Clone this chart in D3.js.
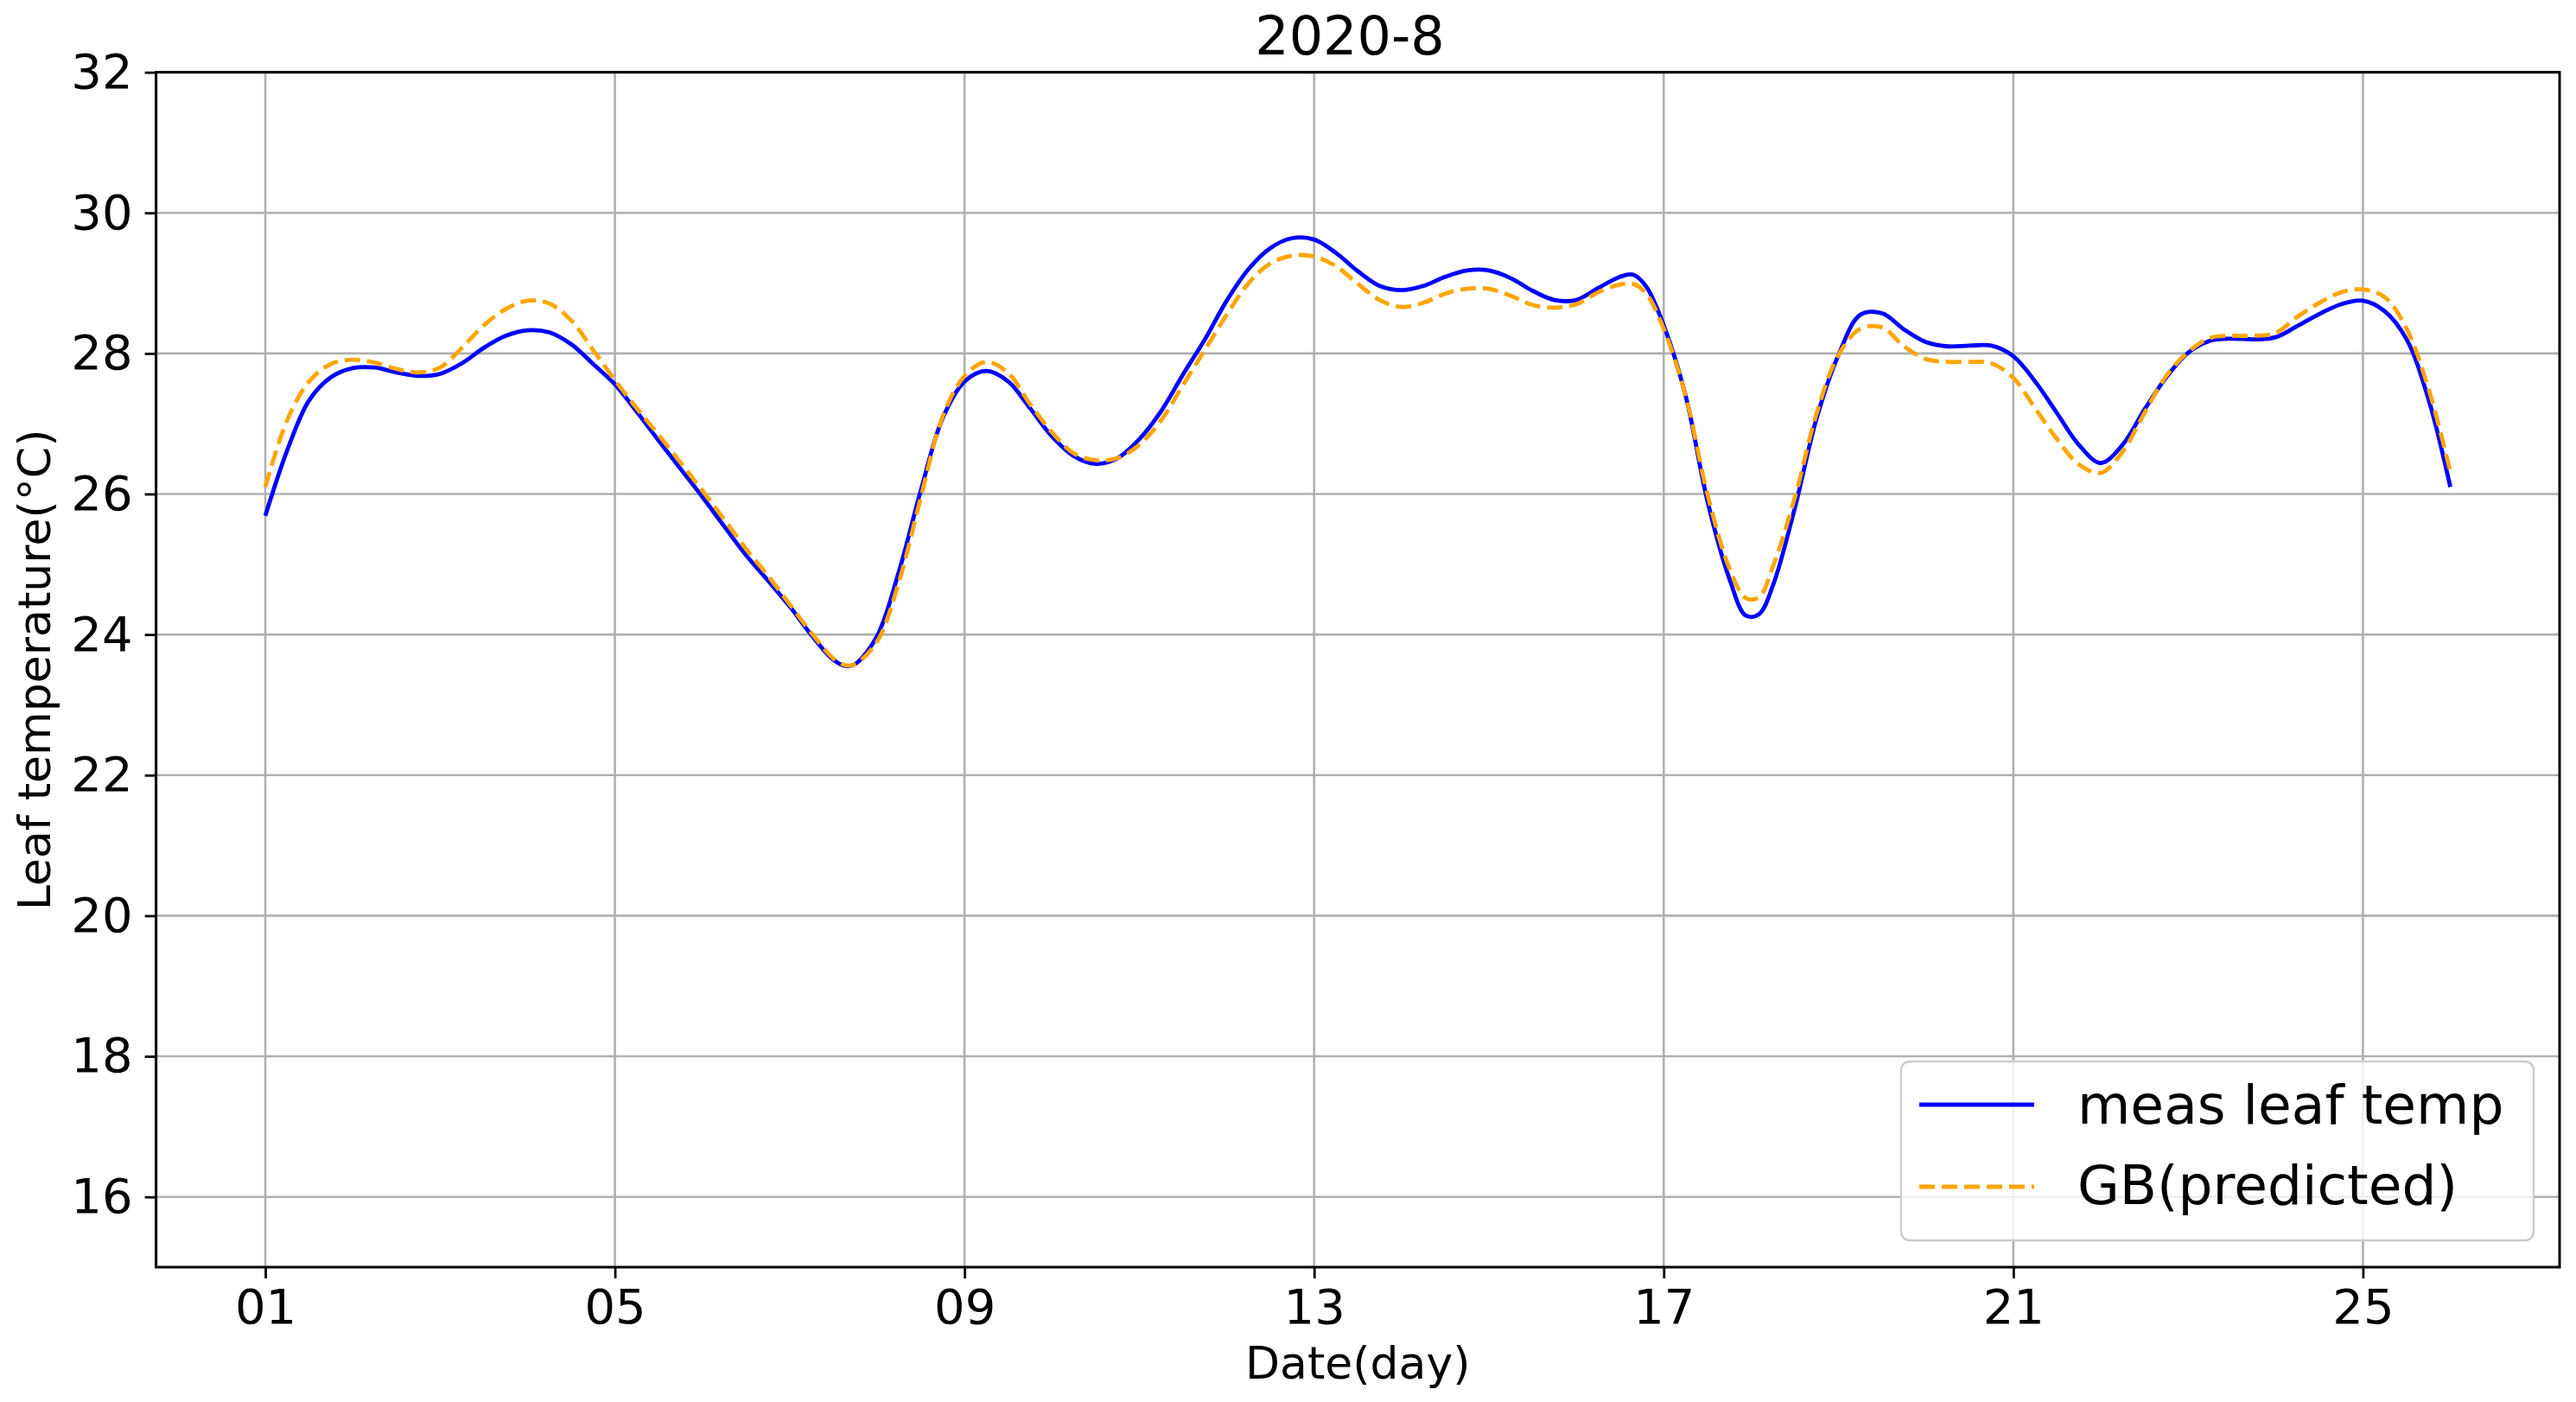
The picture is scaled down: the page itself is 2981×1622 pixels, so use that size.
<!DOCTYPE html>
<html>
<head>
<meta charset="utf-8">
<script src="https://cdn.jsdelivr.net/npm/d3@7"></script>
<style>
  html, body { margin: 0; padding: 0; background: #ffffff; }
  svg { display: block; }
  text { font-family: "DejaVu Sans", sans-serif; fill: #000; }
</style>
</head>
<body>
<svg id="chart" width="2981" height="1622"></svg>
<script>
// ---- data ----
const days = [1.00,1.25,1.50,1.75,2.00,2.25,2.50,2.75,3.00,3.25,3.50,3.75,4.00,4.25,4.50,4.75,
  5.00,5.25,5.50,5.75,6.00,6.25,6.50,6.75,7.00,7.25,7.50,7.65,7.75,8.00,8.25,8.50,8.75,
  9.00,9.25,9.50,9.75,10.00,10.25,10.50,10.75,11.00,11.25,11.50,11.75,12.00,12.25,12.50,12.75,
  13.00,13.25,13.50,13.75,14.00,14.25,14.50,14.75,15.00,15.25,15.50,15.75,16.00,16.25,16.50,16.65,16.80,
  17.00,17.25,17.50,17.75,17.94,18.09,18.25,18.50,18.75,19.00,19.25,19.50,19.75,20.00,20.25,20.50,20.75,
  21.00,21.25,21.50,21.75,22.00,22.25,22.50,22.75,23.00,23.25,23.50,23.75,24.00,24.25,24.50,24.75,
  25.00,25.25,25.50,25.75,26.00];

const measLeafTemp = [25.69,26.62,27.33,27.66,27.79,27.80,27.73,27.68,27.71,27.86,28.08,28.25,28.33,28.30,28.13,27.85,
  27.56,27.17,26.76,26.36,25.96,25.54,25.13,24.77,24.40,23.99,23.64,23.55,23.58,23.98,24.90,26.05,27.08,
  27.60,27.75,27.60,27.22,26.82,26.54,26.43,26.51,26.78,27.18,27.70,28.20,28.75,29.20,29.50,29.64,
  29.62,29.43,29.17,28.96,28.90,28.96,29.09,29.18,29.18,29.07,28.89,28.76,28.76,28.93,29.09,29.12,28.95,
  28.40,27.40,25.90,24.80,24.27,24.29,24.70,25.80,27.08,27.98,28.55,28.57,28.34,28.16,28.10,28.11,28.11,
  27.96,27.60,27.15,26.70,26.44,26.70,27.20,27.66,28.01,28.18,28.21,28.20,28.23,28.39,28.56,28.70,
  28.75,28.60,28.20,27.35,26.10];

const gbPredicted = [26.10,27.05,27.60,27.85,27.91,27.87,27.78,27.73,27.80,28.08,28.40,28.63,28.75,28.71,28.47,28.05,
  27.62,27.22,26.84,26.45,26.05,25.64,25.22,24.84,24.43,24.02,23.66,23.56,23.58,23.90,24.75,25.95,27.10,
  27.68,27.88,27.72,27.28,26.88,26.58,26.48,26.51,26.70,27.05,27.55,28.05,28.55,29.00,29.28,29.39,
  29.38,29.24,28.99,28.76,28.66,28.72,28.85,28.92,28.92,28.82,28.69,28.65,28.70,28.87,28.98,28.99,28.85,
  28.35,27.40,26.00,24.95,24.52,24.53,24.97,25.95,27.15,27.98,28.35,28.37,28.10,27.92,27.88,27.88,27.86,
  27.65,27.22,26.78,26.42,26.30,26.60,27.15,27.68,28.02,28.22,28.25,28.25,28.29,28.52,28.72,28.87,
  28.91,28.80,28.35,27.50,26.32];

const xTickValues = [1, 5, 9, 13, 17, 21, 25];
const xTickLabels = ["01", "05", "09", "13", "17", "21", "25"];
const yTickValues = [16, 18, 20, 22, 24, 26, 28, 30, 32];

const titleText = "2020-8";
const xLabelText = "Date(day)";
const yLabelText = "Leaf temperature(°C)";
const seriesNames = ["meas leaf temp", "GB(predicted)"];

(function draw() {
  // ---- layout ----
  const W = 2981, H = 1622;
  const pL = 180.6, pR = 2962, pT = 83.6, pB = 1466;

  const svg = d3.select("#chart");
  svg.append("rect").attr("width", W).attr("height", H).attr("fill", "#fff");

  const x = d3.scaleLinear().domain([-0.25, 27.25]).range([pL, pR]);
  const y = d3.scaleLinear().domain([15, 32]).range([pB, pT]);

  // grid
  const grid = svg.append("g");
  grid.selectAll("line.gx").data(xTickValues).join("line").attr("class", "gx")
    .attr("x1", d => x(d)).attr("x2", d => x(d))
    .attr("y1", pT).attr("y2", pB)
    .attr("stroke", "#b0b0b0").attr("stroke-width", 2.6);
  grid.selectAll("line.gy").data(yTickValues).join("line").attr("class", "gy")
    .attr("x1", pL).attr("x2", pR)
    .attr("y1", d => y(d)).attr("y2", d => y(d))
    .attr("stroke", "#b0b0b0").attr("stroke-width", 2.6);

  // lines
  const pts = (vals) => days.map((d, i) => [d, vals[i]]);
  const line = d3.line().x(d => x(d[0])).y(d => y(d[1])).curve(d3.curveCatmullRom.alpha(0.5));

  svg.append("defs").append("clipPath").attr("id", "clip")
    .append("rect").attr("x", pL).attr("y", pT).attr("width", pR - pL).attr("height", pB - pT);

  const plot = svg.append("g").attr("clip-path", "url(#clip)");
  plot.append("path").datum(pts(measLeafTemp))
    .attr("d", line).attr("fill", "none")
    .attr("stroke", "#0000ff").attr("stroke-width", 4.8)
    .attr("stroke-linejoin", "round");
  plot.append("path").datum(pts(gbPredicted))
    .attr("d", line).attr("fill", "none")
    .attr("stroke", "#ffa500").attr("stroke-width", 4.8)
    .attr("stroke-dasharray", "18,8");

  // axes
  const xAxis = d3.axisBottom(x).tickValues(xTickValues)
    .tickFormat((d, i) => xTickLabels[i]).tickSize(13).tickPadding(12);
  const yAxis = d3.axisLeft(y).tickValues(yTickValues)
    .tickFormat(d3.format("d")).tickSize(13).tickPadding(14);

  const gx = svg.append("g").attr("transform", `translate(0,${pB})`).call(xAxis);
  const gy = svg.append("g").attr("transform", `translate(${pL},0)`).call(yAxis);
  [gx, gy].forEach(g => {
    g.select(".domain").remove();
    g.selectAll(".tick line").attr("stroke", "#000").attr("stroke-width", 2.8);
    g.selectAll(".tick text").attr("font-size", 56).attr("font-family", "DejaVu Sans").attr("fill", "#000");
  });

  // spines
  svg.append("rect").attr("x", pL).attr("y", pT)
    .attr("width", pR - pL).attr("height", pB - pT)
    .attr("fill", "none").attr("stroke", "#000").attr("stroke-width", 3);

  // title and labels
  svg.append("text").attr("x", 1562).attr("y", 63)
    .attr("text-anchor", "middle").attr("font-size", 62).text(titleText);
  svg.append("text").attr("x", (pL + pR) / 2).attr("y", 1595)
    .attr("text-anchor", "middle").attr("font-size", 52).text(xLabelText);
  svg.append("text").attr("transform", `translate(58,${(pT + pB) / 2}) rotate(-90)`)
    .attr("text-anchor", "middle").attr("font-size", 52).text(yLabelText);

  // legend
  const lg = svg.append("g");
  lg.append("rect").attr("x", 2200).attr("y", 1228).attr("width", 732).attr("height", 207)
    .attr("rx", 10).attr("ry", 10)
    .attr("fill", "#fff").attr("fill-opacity", 0.8)
    .attr("stroke", "#cccccc").attr("stroke-width", 2.4);
  const legendRows = [
    { name: seriesNames[0], color: "#0000ff", dash: null, ly: 1278, ty: 1300 },
    { name: seriesNames[1], color: "#ffa500", dash: "18,8", ly: 1373, ty: 1393 }
  ];
  legendRows.forEach(r => {
    const l = lg.append("line").attr("x1", 2221).attr("x2", 2354)
      .attr("y1", r.ly).attr("y2", r.ly)
      .attr("stroke", r.color).attr("stroke-width", 4.8);
    if (r.dash) l.attr("stroke-dasharray", r.dash);
    lg.append("text").attr("x", 2404).attr("y", r.ty).attr("font-size", 63).text(r.name);
  });
})();
</script>
</body>
</html>
